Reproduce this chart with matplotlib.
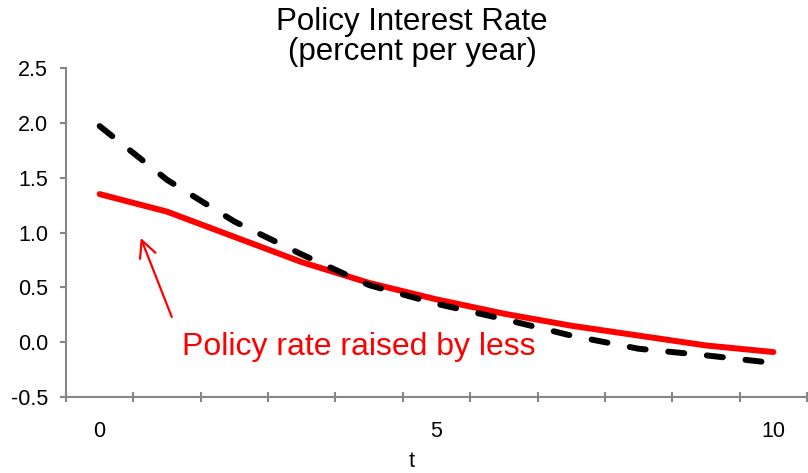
import numpy as np
import matplotlib.pyplot as plt

plt.rcParams["font.family"] = ["Liberation Sans", "DejaVu Sans"]
plt.rcParams["axes.unicode_minus"] = False

# datos
periodos = list(range(11))
tasa_base = [1.97, 1.48, 1.10, 0.80, 0.52, 0.35, 0.21, 0.06, -0.06, -0.12, -0.19]
tasa_menor = [1.35, 1.19, 0.96, 0.73, 0.54, 0.39, 0.26, 0.15, 0.06, -0.03, -0.09]
etiquetas_x = ["0", "5", "10"]
ticks_y = [-0.5, 0.0, 0.5, 1.0, 1.5, 2.0, 2.5]

gris = "#868686"

fig = plt.figure(figsize=(8.08, 4.73), dpi=100)
ax = fig.add_axes([66 / 808, 76 / 473, 741 / 808, 329 / 473])

ax.plot(periodos, tasa_menor, color="red", lw=4.3, solid_capstyle="round", zorder=2)
ax.plot(periodos, tasa_base, color="black", lw=4.3, linestyle=(0, (2.7, 3.8)),
        dash_capstyle="round", zorder=3)

ax.set_xlim(-0.5, 10.5)
ax.set_ylim(-0.5, 2.5)

# ejes
for lado in ["top", "right"]:
    ax.spines[lado].set_visible(False)
ax.spines["left"].set_color(gris)
ax.spines["bottom"].set_color(gris)
ax.spines["left"].set_linewidth(1.5)
ax.spines["bottom"].set_linewidth(1.5)

ax.set_yticks(ticks_y)
ax.set_yticklabels([f"{v:.1f}" for v in ticks_y])
ax.tick_params(axis="y", length=4, width=1.5, color=gris, pad=9, labelsize=15.5)

ax.set_xticks([0, 5, 10])
ax.set_xticklabels(etiquetas_x)
ax.set_xticks(np.arange(-0.5, 11, 1), minor=True)
ax.tick_params(axis="x", which="major", length=0, pad=17, labelsize=15.5)
ax.tick_params(axis="x", which="minor", length=7, width=1.5, color=gris, direction="inout")

ax.set_xlabel("t", fontsize=15.5)
ax.xaxis.set_label_coords(0.467, -0.165)

# titulo
fig.text(412 / 808, 1 - 7 / 473, "Policy Interest Rate\n(percent per year)",
         ha="center", va="top", fontsize=22.5, linespacing=1.0)

# anotacion
ax.annotate("", xy=(0.61, 0.95), xytext=(1.07, 0.23),
            arrowprops=dict(arrowstyle="->,head_length=0.6,head_width=0.3",
                            color="red", lw=1.6, mutation_scale=20, shrinkA=0, shrinkB=0))
ax.text(1.22, -0.04, "Policy rate raised by less", color="red", fontsize=23,
        ha="left", va="center")

plt.savefig("out.png", dpi=100)
